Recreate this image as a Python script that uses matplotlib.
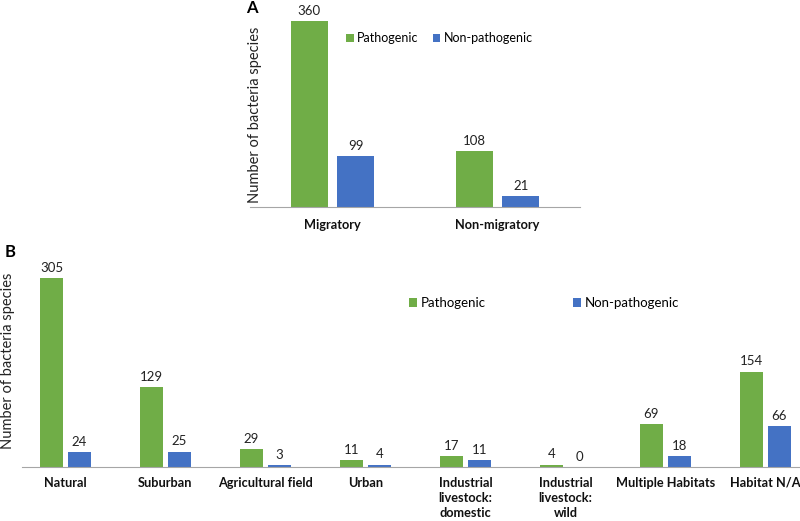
import matplotlib.pyplot as plt
import numpy as np

plt.rcParams['font.family'] = ['Lato', 'DejaVu Sans']

# panel A data
cats_a = ['Migratory', 'Non-migratory']
path_a = [360, 108]
nonpath_a = [99, 21]

# panel B data
cats_b = ['Natural', 'Suburban', 'Agricultural field', 'Urban',
          'Industrial\nlivestock:\ndomestic', 'Industrial\nlivestock:\nwild',
          'Multiple Habitats', 'Habitat N/A']
path_b = [305, 129, 29, 11, 17, 4, 69, 154]
nonpath_b = [24, 25, 3, 4, 11, 0, 18, 66]

GREEN = '#70ad47'
BLUE = '#4472c4'
W, H = 800, 521

fig = plt.figure(figsize=(8, 5.21), dpi=100)


def px_axes(left, top, right, bottom):
    # pixel box -> figure fraction
    return fig.add_axes([left / W, 1 - bottom / H, (right - left) / W, (bottom - top) / H])


def draw(ax, cats, p, n, bw, off, ymax, pad):
    x = np.arange(len(cats))
    b1 = ax.bar(x - off, p, bw, color=GREEN, label='Pathogenic')
    b2 = ax.bar(x + off, n, bw, color=BLUE, label='Non-pathogenic')
    for bars in (b1, b2):
        for r in bars:
            ax.annotate(f'{int(r.get_height())}', (r.get_x() + r.get_width() / 2, r.get_height()),
                        xytext=(0, 3), textcoords='offset points', ha='center', va='bottom',
                        fontsize=9.5, color='#222222')
    ax.set_xlim(-0.5, len(cats) - 0.5)
    ax.set_ylim(0, ymax)
    ax.set_xticks(x)
    ax.set_xticklabels(cats, fontweight='bold', fontsize=9.2, color='#111111', linespacing=1.3)
    ax.tick_params(axis='x', length=0, pad=pad)
    ax.set_yticks([])
    for s in ('top', 'right', 'left'):
        ax.spines[s].set_visible(False)
    ax.spines['bottom'].set_color('#a6a6a6')
    ax.patch.set_alpha(0)
    return b1, b2


# panel A
axA = px_axes(250, 11, 580, 207)
draw(axA, cats_a, path_a, nonpath_a, 0.224, 0.142, 379.3, 9)
axA.legend(loc='upper left', bbox_to_anchor=((346 - 250) / 330, (207 - 32) / 196), ncol=2,
           frameon=False, fontsize=9, handlelength=0.6, handleheight=0.6,
           handletextpad=0.3, columnspacing=1.1, borderaxespad=0, borderpad=0)
fig.text(255 / W, 1 - 115 / H, 'Number of bacteria species', rotation=90,
         ha='center', va='center', fontsize=10.5, color='#222222')
fig.text(252 / W, 1 - 8 / H, 'A', ha='center', va='center', fontsize=12, fontweight='bold')

# panel B
axB = px_axes(15.5, 253, 815.5, 467)
draw(axB, cats_b, path_b, nonpath_b, 0.23, 0.14, 345.3, 7)
axB.spines['bottom'].set_bounds(-0.435, 7.5)
axB.legend(loc='upper left', bbox_to_anchor=((409 - 15.5) / 800, (467 - 297) / 214), ncol=2,
           frameon=False, fontsize=9.5, handlelength=0.6, handleheight=0.6,
           handletextpad=0.3, columnspacing=6.6, borderaxespad=0, borderpad=0)
fig.text(8 / W, 1 - 361 / H, 'Number of bacteria species', rotation=90,
         ha='center', va='center', fontsize=10.5, color='#222222')
fig.text(10 / W, 1 - 252 / H, 'B', ha='center', va='center', fontsize=12, fontweight='bold')

fig.savefig('out.png', dpi=100)
